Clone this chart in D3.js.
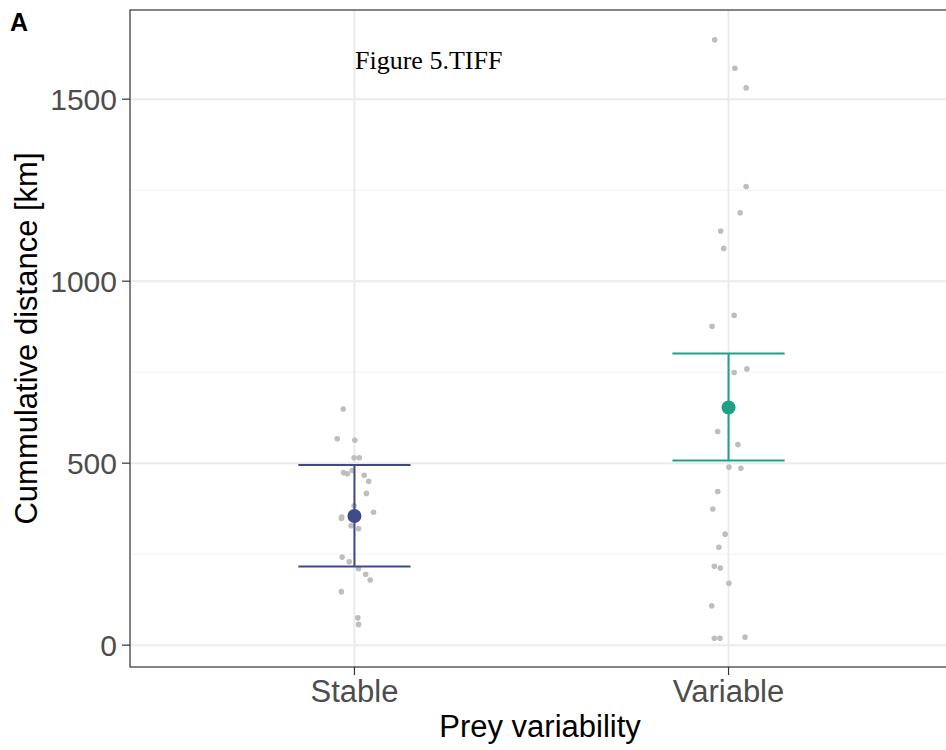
<!DOCTYPE html>
<html>
<head>
<meta charset="utf-8">
<script src="https://cdnjs.cloudflare.com/ajax/libs/d3/7.8.5/d3.min.js"></script>
<style>
  body { margin: 0; background: #fff; }
  svg { font-family: "Liberation Sans", Arial, sans-serif; }
</style>
</head>
<body>
<svg id="chart"></svg>
<script>
// categories and summary values
var categories = ["Stable", "Variable"];
var means = [355, 653];
var lower = [216, 507];
var upper = [495, 801];
var colors = ["#3E4A89", "#1FA187"];

// raw observations (value, jitter in category units)
var stableValues = [649, 567, 563, 515, 515, 474, 471, 480, 467, 450, 417, 383, 365, 352, 348, 328, 320, 242, 229, 210, 195, 179, 147, 75, 57];
var stableJitter = [-0.030, -0.046, 0.001, -0.001, 0.013, -0.029, -0.019, -0.006, 0.026, 0.038, 0.032, -0.001, 0.051, -0.034, -0.035, -0.009, 0.011, -0.033, -0.014, 0.011, 0.030, 0.042, -0.035, 0.009, 0.011];
var variableValues = [1663, 1585, 1531, 1260, 1188, 1138, 1090, 906, 876, 749, 759, 587, 551, 489, 486, 422, 374, 305, 269, 217, 212, 170, 108, 19, 19, 22];
var variableJitter = [-0.037, 0.017, 0.047, 0.047, 0.031, -0.021, -0.013, 0.015, -0.044, 0.015, 0.049, -0.029, 0.025, 0.001, 0.033, -0.029, -0.042, -0.009, -0.026, -0.038, -0.022, 0.001, -0.045, -0.038, -0.023, 0.044];

var yTicks = [0, 500, 1000, 1500];
var yMinor = [250, 750, 1250];

var W = 946, H = 750;
var margin = {top: 10, right: -7, bottom: 83, left: 130},
    width = W - margin.left - margin.right,
    height = H - margin.top - margin.bottom;

var svg = d3.select("#chart").attr("width", W).attr("height", H);
var g = svg.append("g").attr("transform", "translate(" + margin.left + "," + margin.top + ")");

// discrete x with ggplot-like expansion
var x = d3.scaleLinear().domain([0.4, 2.6]).range([0, width]);
var xc = function(c) { return x(categories.indexOf(c) + 1); };
var y = d3.scaleLinear().domain([-60, 1745]).range([height, 0]);

// grid
g.selectAll(".minor").data(yMinor).enter().append("line")
    .attr("x1", 0).attr("x2", width)
    .attr("y1", function(d) { return y(d); }).attr("y2", function(d) { return y(d); })
    .attr("stroke", "#F2F2F2").attr("stroke-width", 1);
g.selectAll(".major").data(yTicks).enter().append("line")
    .attr("x1", 0).attr("x2", width)
    .attr("y1", function(d) { return y(d); }).attr("y2", function(d) { return y(d); })
    .attr("stroke", "#EBEBEB").attr("stroke-width", 2);
g.selectAll(".vmajor").data(categories).enter().append("line")
    .attr("y1", 0).attr("y2", height)
    .attr("x1", xc).attr("x2", xc)
    .attr("stroke", "#EBEBEB").attr("stroke-width", 2);

// raw points
var points = [];
stableValues.forEach(function(v, i) { points.push({cat: "Stable", v: v, j: stableJitter[i]}); });
variableValues.forEach(function(v, i) { points.push({cat: "Variable", v: v, j: variableJitter[i]}); });

g.selectAll(".pt").data(points).enter().append("circle")
    .attr("cx", function(d) { return x(categories.indexOf(d.cat) + 1 + d.j); })
    .attr("cy", function(d) { return y(d.v); })
    .attr("r", 2.8)
    .attr("fill", "#BEBEBE");

// error bars
function xc_(d) { return xc(d.cat); }
var summary = categories.map(function(c, i) {
  return {cat: c, mean: means[i], lo: lower[i], hi: upper[i], col: colors[i]};
});
var capHalf = 0.15;
var eb = g.selectAll(".eb").data(summary).enter().append("g");
eb.append("line")
    .attr("x1", xc_).attr("x2", xc_)
    .attr("y1", function(d) { return y(d.lo); }).attr("y2", function(d) { return y(d.hi); })
    .attr("stroke", function(d) { return d.col; }).attr("stroke-width", 2);
["lo", "hi"].forEach(function(k) {
  eb.append("line")
      .attr("x1", function(d) { return x(categories.indexOf(d.cat) + 1 - capHalf); })
      .attr("x2", function(d) { return x(categories.indexOf(d.cat) + 1 + capHalf); })
      .attr("y1", function(d) { return y(d[k]); }).attr("y2", function(d) { return y(d[k]); })
      .attr("stroke", function(d) { return d.col; }).attr("stroke-width", 2);
});
eb.append("circle")
    .attr("cx", xc_).attr("cy", function(d) { return y(d.mean); })
    .attr("r", 7).attr("fill", function(d) { return d.col; });

// panel border
g.append("rect").attr("x", 0).attr("y", 0).attr("width", width).attr("height", height)
    .attr("fill", "none").attr("stroke", "#333333").attr("stroke-width", 1.2);

// y axis
var yAxis = g.append("g");
yAxis.selectAll("line").data(yTicks).enter().append("line")
    .attr("x1", -8).attr("x2", 0)
    .attr("y1", function(d) { return y(d); }).attr("y2", function(d) { return y(d); })
    .attr("stroke", "#333333").attr("stroke-width", 1.2);
yAxis.selectAll("text").data(yTicks).enter().append("text")
    .attr("x", -13).attr("y", function(d) { return y(d); })
    .attr("dy", "0.36em").attr("text-anchor", "end")
    .attr("font-size", 30).attr("fill", "#4D4D4D")
    .text(function(d) { return d; });

// x axis
var xAxis = g.append("g");
xAxis.selectAll("line").data(categories).enter().append("line")
    .attr("x1", xc).attr("x2", xc).attr("y1", height).attr("y2", height + 8)
    .attr("stroke", "#333333").attr("stroke-width", 1.2);
xAxis.selectAll("text").data(categories).enter().append("text")
    .attr("x", xc).attr("y", height + 35)
    .attr("text-anchor", "middle")
    .attr("font-size", 31).attr("fill", "#4D4D4D")
    .text(function(d) { return d; });

// axis titles
svg.append("text")
    .attr("x", 540).attr("y", 737)
    .attr("text-anchor", "middle").attr("font-size", 31).attr("fill", "#000")
    .text("Prey variability");
svg.append("text")
    .attr("transform", "translate(37," + (margin.top + height / 2) + ") rotate(-90)")
    .attr("text-anchor", "middle").attr("font-size", 31).attr("fill", "#000")
    .text("Cummulative distance [km]");

// panel tag and watermark
svg.append("text")
    .attr("x", 10).attr("y", 31)
    .attr("font-size", 25).attr("font-weight", "bold").attr("fill", "#000")
    .text("A");
svg.append("text")
    .attr("x", 355).attr("y", 69)
    .attr("font-family", "'Liberation Serif', 'Times New Roman', serif")
    .attr("font-size", 26).attr("fill", "#000")
    .text("Figure 5.TIFF");
</script>
</body>
</html>
